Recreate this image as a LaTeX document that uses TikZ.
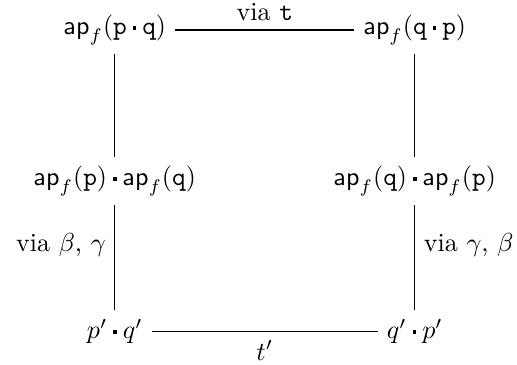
\documentclass[tikz,border=0pt]{standalone}
\usepackage{amsmath}
\usepackage{amssymb}
\usepackage{tikz}
\usetikzlibrary{positioning}

\newcommand{\apf}[1]{\mathsf{ap}_{f}(#1)}
\newcommand{\cc}{\mathbin{\vcenter{\hbox{\rule{1.5pt}{1.5pt}}}}}

\begin{document}
\begin{tikzpicture}[every node/.style={inner sep=3.3pt}]
  \useasboundingbox (-1.55,0.405) rectangle (5.43,-4.51);
  \node (tl) at (0,0) {$\apf{\mathtt{p}\cc\mathtt{q}}$};
  \node (tr) at (4.05,0) {$\apf{\mathtt{q}\cc\mathtt{p}}$};
  \node (ml) at (0,-2.04) {$\apf{\mathtt{p}}\cc\apf{\mathtt{q}}$};
  \node (mr) at (4.05,-2.04) {$\apf{\mathtt{q}}\cc\apf{\mathtt{p}}$};
  \node (bl) at (0,-4.07) {$p'\cc q'$};
  \node (br) at (4.05,-4.07) {$q'\cc p'$};

  \draw (tl) -- node[above] {via $\mathtt{t}$} (tr);
  \draw (tl) -- (ml);
  \draw (tr) -- (mr);
  \draw (ml) -- node[left, pos=0.38] {via $\beta$, $\gamma$} (bl);
  \draw (mr) -- node[right, pos=0.38] {via $\gamma$, $\beta$} (br);
  \draw (bl) -- node[below] {$t'$} (br);
\end{tikzpicture}
\end{document}
